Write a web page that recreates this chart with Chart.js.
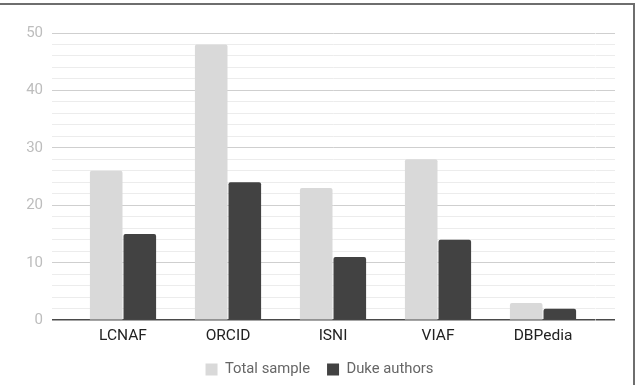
<!DOCTYPE html>
<html>
<head>
<meta charset="utf-8">
<script src="https://cdn.jsdelivr.net/npm/chart.js@4"></script>
<style>
html,body{margin:0;padding:0;background:#fff;}
#wrap{position:relative;width:639px;height:385px;}
#frame{position:absolute;left:0;top:3px;width:635px;height:400px;box-sizing:border-box;border-top:2px solid #6e6e6e;border-right:2px solid #6e6e6e;pointer-events:none;}
canvas{position:absolute;left:0;top:0;}
</style>
</head>
<body>
<div id="wrap"><canvas id="c" width="639" height="385"></canvas><div id="frame"></div></div>
<script>
const categories = ["LCNAF", "ORCID", "ISNI", "VIAF", "DBPedia"];
const seriesNames = ["Total sample", "Duke authors"];
const totalSample = [26, 48, 23, 28, 3];
const dukeAuthors = [15, 24, 11, 14, 2];
const yMin = 0, yMax = 50, yStep = 2, yLabelStep = 10;

const gridColor = ctx => {
  const v = ctx.tick ? ctx.tick.value : null;
  if (v === 0) return '#4a4a4a';
  if (v !== null && v % yLabelStep === 0) return '#cfcfcf';
  return '#ececec';
};
const gridWidth = ctx => (ctx.tick && ctx.tick.value === 0) ? 1.5 : 1;

new Chart(document.getElementById('c'), {
  type: 'bar',
  data: {
    labels: categories,
    datasets: [
      {label: seriesNames[0], data: totalSample, backgroundColor: '#d9d9d9', borderRadius: 2, categoryPercentage: 0.64, barPercentage: 0.97},
      {label: seriesNames[1], data: dukeAuthors, backgroundColor: '#424242', borderRadius: 2, categoryPercentage: 0.64, barPercentage: 0.97}
    ]
  },
  options: {
    responsive: false,
    animation: false,
    layout: {padding: {top: 33, bottom: -2, left: 0, right: 0}},
    plugins: {
      tooltip: {enabled: false},
      legend: {
        position: 'bottom',
        labels: {boxWidth: 12, boxHeight: 12, padding: 17, color: '#666', font: {family: 'Roboto', size: 14.8}}
      }
    },
    scales: {
      x: {
        afterFit: s => { s.height = 25; },
        grid: {display: false, drawTicks: false},
        border: {display: false},
        ticks: {padding: 7, color: '#222', font: {family: 'Roboto', size: 15.5}}
      },
      y: {
        position: 'left',
        min: yMin, max: yMax,
        afterFit: s => { s.width = 70.5; },
        grid: {color: gridColor, tickColor: gridColor, lineWidth: gridWidth, tickWidth: gridWidth, tickLength: 18.5},
        border: {display: false},
        ticks: {stepSize: yStep, autoSkip: false, padding: 9, color: '#bdbdbd', font: {family: 'Roboto', size: 15},
          callback: v => (v % yLabelStep === 0 ? String(v) : '')}
      },
      y2: {
        position: 'right',
        min: yMin, max: yMax,
        afterFit: s => { s.width = 43.5; },
        grid: {drawOnChartArea: false, color: gridColor, tickColor: gridColor, lineWidth: gridWidth, tickWidth: gridWidth, tickLength: 19.5},
        border: {display: false},
        ticks: {stepSize: yStep, autoSkip: false, padding: 0, callback: () => ''}
      }
    }
  }
});
</script>
</body>
</html>
